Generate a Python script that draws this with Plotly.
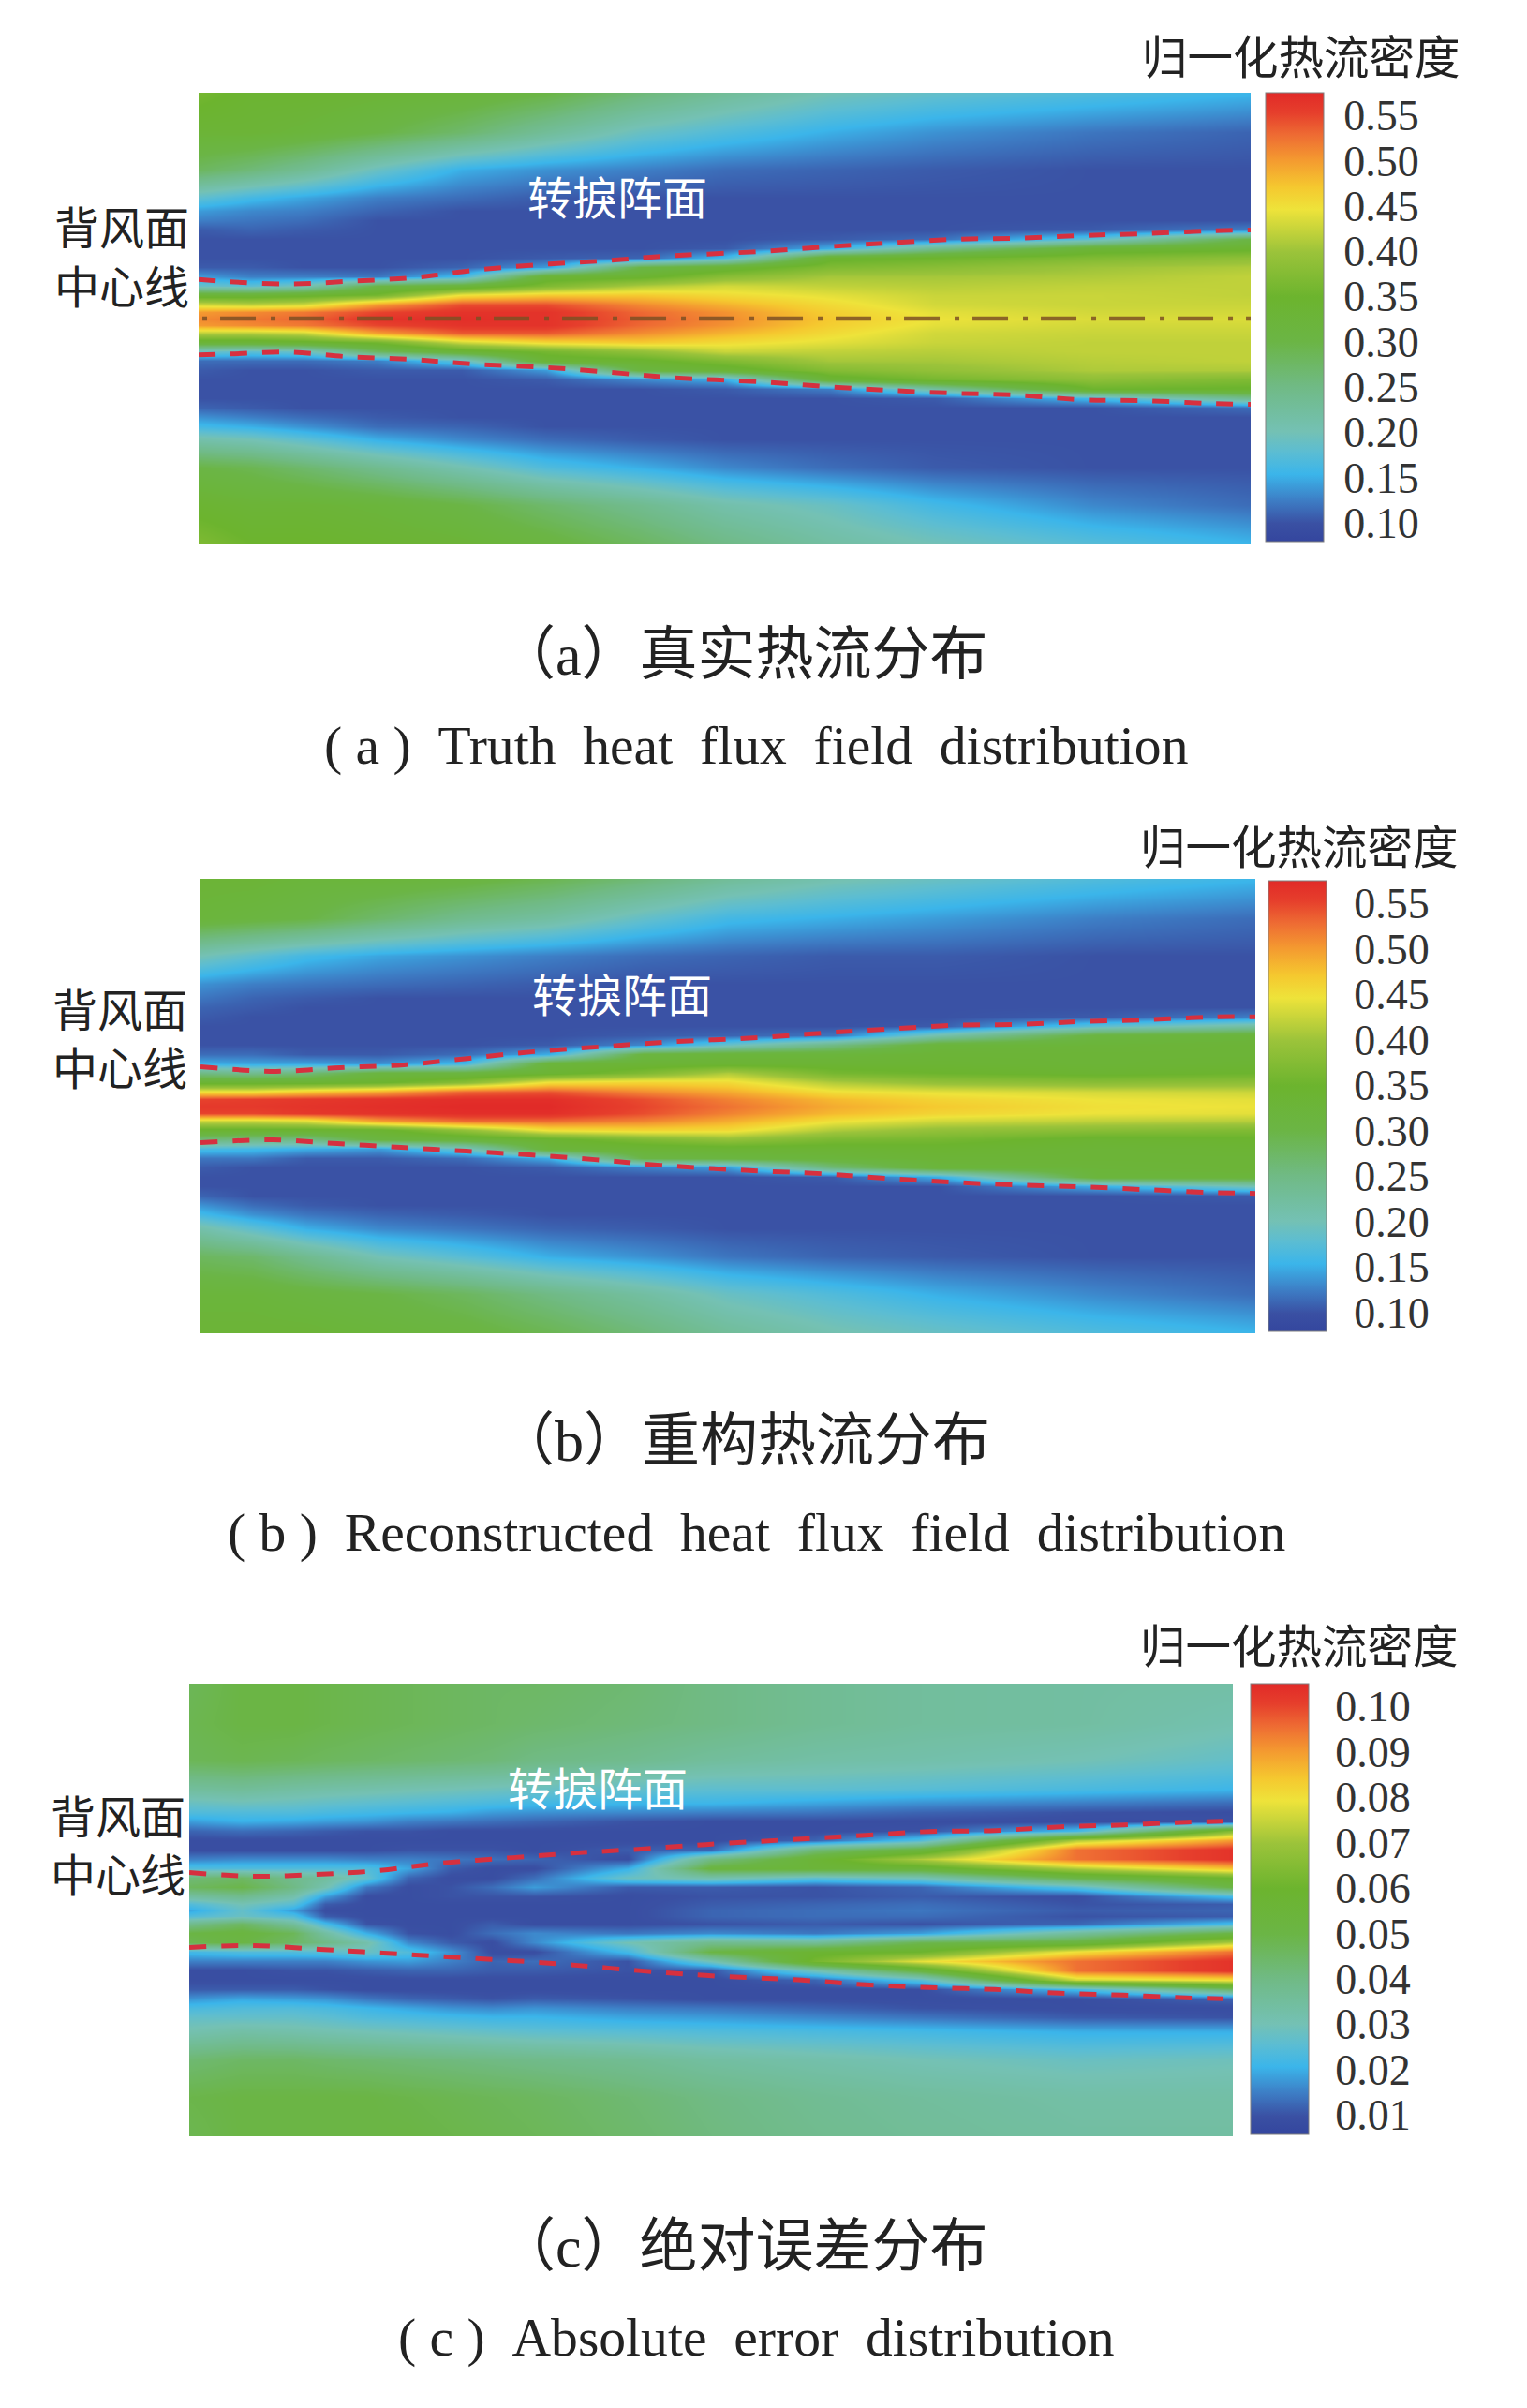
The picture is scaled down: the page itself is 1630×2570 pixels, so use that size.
import plotly.graph_objects as go

W, H = 1630, 2570
FONT = "Liberation Serif, Noto Sans CJK SC"
NB = "\u00a0"

# position along the span (fraction) and distance from the leeward centre line
x_stations = [0, .05, .1, .17, .25, .33, .42, .5, .6, .7, .85, 1]
error_x_stations = [0, .05, .1, .13, .17, .21, .25, .29, .33, .42, .5, .6, .7, .85, 1]
y_stations = [242, 200, 160, 130, 115, 105, 95, 85, 75, 65, 55, 45, 35, 25, 15, 7, 0,
              -7, -15, -25, -35, -45, -55, -65, -75, -85, -95, -105, -115, -130, -160, -200, -242]

# each inner list is one vertical profile at an x station, top to bottom
truth_profiles = [
 [.36,.33,.28,.18,.14,.125,.105,.10,.10,.10,.105,.14,.19,.33,.43,.50,.51, .50,.42,.33,.19,.115,.105,.10,.10,.10,.11,.135,.16,.21,.30,.34,.37],
 [.34,.33,.26,.16,.13,.12,.11,.10,.10,.10,.105,.125,.18,.33,.42,.51,.52, .51,.42,.33,.18,.115,.10,.10,.10,.10,.105,.125,.15,.20,.29,.33,.35],
 [.34,.32,.235,.145,.125,.115,.105,.10,.10,.10,.10,.125,.20,.34,.43,.52,.53, .52,.43,.34,.19,.115,.10,.10,.10,.10,.10,.115,.135,.18,.27,.33,.35],
 [.33,.30,.19,.125,.11,.10,.10,.10,.10,.10,.10,.12,.30,.36,.50,.55,.565, .55,.50,.36,.28,.125,.105,.10,.10,.10,.10,.105,.115,.15,.24,.32,.34],
 [.32,.27,.15,.115,.10,.10,.10,.10,.10,.10,.11,.16,.32,.45,.545,.565,.57, .565,.54,.43,.33,.18,.105,.10,.10,.10,.10,.10,.11,.13,.205,.30,.33],
 [.30,.23,.135,.105,.10,.10,.10,.10,.10,.105,.14,.33,.37,.47,.545,.565,.565, .565,.54,.46,.36,.33,.14,.105,.10,.10,.10,.10,.10,.115,.17,.27,.31],
 [.26,.19,.125,.10,.10,.10,.10,.10,.10,.11,.30,.34,.41,.47,.51,.53,.535, .53,.51,.47,.39,.34,.31,.13,.10,.10,.10,.10,.10,.105,.15,.24,.28],
 [.23,.17,.115,.10,.10,.10,.10,.10,.105,.16,.33,.38,.43,.455,.485,.505,.51, .505,.485,.455,.425,.37,.33,.15,.105,.10,.10,.10,.10,.10,.13,.21,.25],
 [.20,.15,.11,.10,.10,.10,.10,.105,.15,.34,.37,.405,.42,.44,.455,.465,.47, .465,.455,.44,.42,.405,.375,.33,.125,.10,.10,.10,.10,.10,.115,.19,.22],
 [.185,.135,.105,.10,.10,.10,.10,.115,.24,.35,.38,.405,.415,.425,.43,.44,.445, .44,.43,.425,.415,.405,.39,.36,.22,.105,.10,.10,.10,.10,.105,.16,.20],
 [.17,.12,.10,.10,.10,.10,.105,.18,.33,.37,.40,.41,.42,.425,.425,.43,.435, .43,.425,.42,.42,.415,.41,.385,.35,.16,.10,.10,.10,.10,.10,.13,.175],
 [.155,.11,.10,.10,.10,.10,.125,.30,.34,.385,.41,.42,.42,.42,.425,.43,.435, .43,.425,.42,.42,.42,.41,.37,.345,.24,.115,.10,.10,.10,.10,.115,.155],
]
recon_profiles = [
 [.33,.32,.20,.135,.12,.11,.105,.10,.10,.10,.115,.15,.25,.335,.45,.55,.56, .55,.43,.34,.26,.165,.12,.105,.10,.10,.11,.135,.16,.21,.28,.32,.33],
 [.33,.31,.18,.125,.11,.105,.10,.10,.10,.10,.115,.145,.24,.335,.45,.555,.56, .55,.43,.34,.25,.16,.12,.10,.10,.10,.10,.115,.135,.18,.27,.32,.33],
 [.32,.30,.16,.12,.105,.10,.10,.10,.10,.10,.105,.145,.26,.335,.47,.56,.565, .56,.44,.34,.25,.15,.105,.10,.10,.10,.10,.105,.12,.15,.24,.31,.33],
 [.32,.27,.145,.115,.10,.10,.10,.10,.10,.10,.105,.135,.31,.345,.49,.565,.57, .565,.50,.34,.31,.14,.105,.10,.10,.10,.10,.10,.11,.13,.20,.30,.32],
 [.31,.24,.135,.11,.10,.10,.10,.10,.10,.10,.115,.16,.31,.38,.53,.57,.575, .57,.53,.39,.32,.19,.115,.10,.10,.10,.10,.10,.105,.12,.175,.28,.31],
 [.29,.22,.125,.105,.10,.10,.10,.10,.10,.105,.15,.32,.335,.45,.54,.57,.575, .57,.53,.45,.34,.32,.15,.105,.10,.10,.10,.10,.10,.11,.15,.25,.29],
 [.26,.185,.115,.10,.10,.10,.10,.10,.105,.13,.31,.33,.37,.46,.51,.545,.55, .545,.515,.46,.37,.33,.30,.125,.10,.10,.10,.10,.10,.105,.135,.22,.26],
 [.23,.16,.11,.10,.10,.10,.10,.10,.11,.19,.32,.335,.41,.455,.49,.515,.525, .515,.49,.455,.39,.335,.31,.14,.10,.10,.10,.10,.10,.10,.12,.19,.23],
 [.205,.15,.105,.10,.10,.10,.10,.10,.12,.25,.32,.335,.36,.41,.45,.48,.49, .48,.45,.41,.365,.335,.32,.26,.105,.10,.10,.10,.10,.10,.11,.17,.205],
 [.19,.14,.105,.10,.10,.10,.10,.105,.21,.32,.33,.335,.35,.39,.44,.46,.47, .46,.43,.39,.36,.34,.33,.32,.15,.10,.10,.10,.10,.10,.105,.15,.19],
 [.17,.125,.10,.10,.10,.10,.105,.18,.31,.325,.33,.33,.34,.38,.43,.445,.45, .445,.42,.38,.34,.33,.33,.325,.32,.15,.10,.10,.10,.10,.10,.13,.17],
 [.155,.115,.10,.10,.10,.10,.125,.22,.32,.33,.33,.335,.35,.385,.425,.44,.445, .44,.415,.37,.345,.335,.33,.33,.32,.20,.105,.10,.10,.10,.10,.115,.155],
]
error_profiles = [
 [.047,.048,.047,.035,.028,.024,.018,.012,.009,.009,.015,.024,.042,.046,.034,.024,.019, .024,.038,.05,.048,.022,.015,.009,.009,.011,.017,.023,.027,.031,.043,.049,.048],
 [.05,.05,.048,.036,.029,.024,.02,.013,.009,.009,.016,.024,.045,.049,.038,.03,.027, .028,.045,.052,.05,.024,.015,.009,.009,.011,.019,.024,.027,.033,.045,.05,.05],
 [.05,.05,.047,.034,.028,.024,.019,.012,.009,.009,.016,.024,.038,.04,.032,.025,.018, .024,.035,.047,.045,.024,.015,.010,.009,.011,.018,.024,.027,.032,.045,.05,.05],
 [.049,.049,.046,.033,.027,.023,.018,.011,.009,.009,.016,.024,.035,.031,.018,.011,.009, .011,.022,.034,.04,.025,.015,.010,.009,.010,.017,.023,.026,.031,.044,.05,.05],
 [.048,.048,.045,.032,.026,.022,.017,.010,.009,.009,.015,.024,.027,.014,.009,.009,.009, .009,.010,.02,.032,.028,.017,.011,.009,.009,.014,.021,.024,.03,.043,.05,.05],
 [.047,.047,.044,.031,.025,.021,.015,.010,.009,.010,.015,.019,.012,.009,.009,.009,.009, .009,.009,.010,.016,.024,.018,.012,.009,.009,.012,.019,.023,.029,.042,.049,.05],
 [.046,.046,.043,.03,.024,.02,.014,.009,.009,.010,.014,.011,.009,.010,.010,.009,.009, .009,.009,.009,.011,.017,.015,.012,.009,.009,.011,.017,.022,.028,.041,.048,.049],
 [.045,.045,.042,.029,.023,.018,.013,.009,.009,.010,.013,.009,.009,.013,.010,.009,.009, .009,.011,.013,.009,.009,.012,.011,.009,.009,.010,.016,.021,.027,.040,.047,.048],
 [.045,.044,.04,.028,.022,.017,.012,.009,.009,.009,.012,.009,.013,.018,.010,.009,.009, .009,.009,.016,.016,.009,.013,.011,.009,.009,.011,.017,.021,.026,.039,.046,.047],
 [.043,.042,.038,.027,.021,.016,.010,.009,.009,.011,.009,.02,.028,.011,.009,.009,.009, .009,.009,.014,.03,.022,.010,.010,.009,.009,.010,.015,.019,.025,.037,.043,.044],
 [.04,.04,.035,.026,.021,.015,.009,.009,.009,.012,.04,.052,.032,.011,.010,.011,.012, .012,.010,.016,.038,.05,.03,.010,.009,.009,.009,.014,.018,.024,.034,.04,.041],
 [.037,.037,.033,.026,.019,.014,.009,.009,.012,.042,.056,.055,.026,.010,.010,.012,.013, .013,.011,.014,.036,.058,.062,.03,.012,.009,.009,.012,.016,.023,.032,.037,.038],
 [.035,.035,.032,.025,.017,.012,.009,.010,.024,.052,.072,.055,.03,.012,.011,.013,.014, .013,.010,.018,.048,.06,.078,.052,.025,.009,.009,.010,.014,.022,.03,.035,.036],
 [.034,.034,.03,.023,.015,.010,.009,.022,.072,.095,.095,.072,.05,.025,.009,.010,.011, .010,.012,.035,.052,.08,.095,.095,.075,.022,.009,.009,.011,.02,.028,.033,.034],
 [.033,.031,.027,.021,.013,.009,.010,.065,.09,.103,.103,.085,.06,.05,.022,.011,.012, .011,.022,.05,.072,.095,.103,.103,.08,.045,.012,.009,.010,.02,.029,.033,.034],
]

# dashed boundary curves of the roll-up front
truth_upper_x = [0, .022, .084, .144, .205, .264, .326, .387, .445, .536, .598, .657, .719, .778, .84, .899, .961, 1]
truth_upper_y = [42, 40, 37, 40, 44, 52, 58, 62, 67, 72, 77, 81, 85, 86, 89, 91, 94, 95]
truth_lower_x = [0, .03, .084, .143, .205, .264, .324, .385, .447, .536, .598, .657, .719, .778, .84, .9, .961, 1]
truth_lower_y = [-39, -38, -36, -41, -44, -49, -52, -57, -63, -68, -73, -77, -80, -82, -87, -88, -91, -92]
recon_upper_x = [0, .071, .132, .193, .255, .316, .377, .439, .53, .592, .652, .714, .775, .836, .899, .96, 1]
recon_upper_y = [42, 37, 41, 44, 51, 58, 63, 68, 73, 78, 82, 86, 87, 90, 92, 95, 95]
recon_lower_x = [0, .069, .13, .19, .252, .312, .374, .436, .528, .589, .65, .712, .772, .834, .896, .956, 1]
recon_lower_y = [-39, -36, -40, -44, -48, -52, -57, -63, -69, -72, -77, -81, -84, -86, -89, -92, -93]
error_upper_x = [0, .062, .12, .18, .24, .31, .37, .43, .495, .587, .648, .71, .773, .835, .896, .957, 1]
error_upper_y = [40, 36, 38, 42, 50, 56, 61, 65, 70, 76, 80, 84, 85, 89, 91, 94, 95]
error_lower_x = [0, .062, .125, .186, .247, .308, .37, .433, .495, .587, .648, .709, .772, .834, .895, .956, 1]
error_lower_y = [-40, -38, -42, -46, -50, -54, -59, -65, -70, -75, -80, -83, -85, -89, -91, -94, -95]
centre_x = [-.0445, 1]
centre_y = [0, 0]

flux_ticks = [.10, .15, .20, .25, .30, .35, .40, .45, .50, .55]
flux_labels = ["0.10", "0.15", "0.20", "0.25", "0.30", "0.35", "0.40", "0.45", "0.50", "0.55"]
error_ticks = [.01, .02, .03, .04, .05, .06, .07, .08, .09, .10]
error_labels = ["0.01", "0.02", "0.03", "0.04", "0.05", "0.06", "0.07", "0.08", "0.09", "0.10"]

color_stops = [0, .04, .09, .15, .20, .245, .345, .445, .545, .645, .74, .79, .85, .905, .955, 1]
color_values = ["#34469e", "#3a50a3", "#3d7cc4", "#3bb5ea", "#5cbdd2", "#74c1b4", "#70ba85", "#6bb545",
                "#6cb42e", "#9bc33a", "#eee33a", "#f5c82f", "#f49a30", "#ee6c33", "#e63f2c", "#e12a28"]
colorscale = [[s, c] for s, c in zip(color_stops, color_values)]


def eng(tag, words):
    return f"( {tag} ){NB}{NB}" + (NB + NB).join(words.split())


panels = [
    dict(x=x_stations, z=truth_profiles, up=(truth_upper_x, truth_upper_y), lo=(truth_lower_x, truth_lower_y),
         box=(212, 1335, 99, 581), bar=(1351, 1413, 99, 578), zr=(.079, .575),
         ticks=flux_ticks, labels=flux_labels, ticklen=12,
         title=(1389, 62), front=(659, 212), lee=(130, 244, 307),
         cap=("（a）真实热流分布", 793, 699), eng=(eng("a", "Truth heat flux field distribution"), 807, 796), centre=True),
    dict(x=x_stations, z=recon_profiles, up=(recon_upper_x, recon_upper_y), lo=(recon_lower_x, recon_lower_y),
         box=(214, 1340, 938, 1423), bar=(1354, 1416, 940, 1421), zr=(.079, .575),
         ticks=flux_ticks, labels=flux_labels, ticklen=20,
         title=(1387, 905), front=(664, 1063), lee=(128, 1079, 1141),
         cap=("（b）重构热流分布", 793, 1538), eng=(eng("b", "Reconstructed heat flux field distribution"), 807, 1636), centre=False),
    dict(x=error_x_stations, z=error_profiles, up=(error_upper_x, error_upper_y), lo=(error_lower_x, error_lower_y),
         box=(202, 1316, 1797, 2280), bar=(1335, 1397, 1797, 2278), zr=(.0057, .105),
         ticks=error_ticks, labels=error_labels, ticklen=19,
         title=(1387, 1758), front=(638, 1910), lee=(126, 1940, 2002),
         cap=("（c）绝对误差分布", 793, 2398), eng=(eng("c", "Absolute error distribution"), 807, 2495), centre=False),
]

fig = go.Figure()
annotations = []


def text(t, px, py, size, color="#222222"):
    annotations.append(dict(text=t, x=px / W, y=1 - py / H, xref="paper", yref="paper",
                            xanchor="center", yanchor="middle", showarrow=False,
                            font=dict(family=FONT, size=size, color=color)))


layout_axes = {}
for i, p in enumerate(panels, 1):
    xa, ya = ("x", "y") if i == 1 else (f"x{i}", f"y{i}")
    x0, x1, y0, y1 = p["box"]
    layout_axes["xaxis" if i == 1 else f"xaxis{i}"] = dict(
        domain=[x0 / W, x1 / W], range=[0, 1], visible=False, anchor=ya)
    layout_axes["yaxis" if i == 1 else f"yaxis{i}"] = dict(
        domain=[1 - y1 / H, 1 - y0 / H], range=[-242, 242], visible=False, anchor=xa)
    bx0, bx1, by0, by1 = p["bar"]
    z_rows = [list(r) for r in zip(*p["z"])]
    fig.add_trace(go.Heatmap(
        x=p["x"], y=y_stations, z=z_rows, xaxis=xa, yaxis=ya,
        zmin=p["zr"][0], zmax=p["zr"][1], zsmooth="best", colorscale=colorscale, hoverinfo="skip",
        colorbar=dict(
            x=bx0 / W, xanchor="left", xpad=0, y=1 - (by0 + by1) / 2 / H, yanchor="middle", ypad=0,
            len=by1 - by0, lenmode="pixels", thickness=bx1 - bx0, thicknessmode="pixels",
            outlinewidth=1, outlinecolor="#808080",
            tickmode="array", tickvals=p["ticks"], ticktext=p["labels"],
            ticks="outside", ticklen=p["ticklen"], tickcolor="rgba(0,0,0,0)",
            tickfont=dict(family=FONT, size=46, color="#333333"))))
    for cx, cy in (p["up"], p["lo"]):
        fig.add_trace(go.Scatter(x=cx, y=cy, xaxis=xa, yaxis=ya, mode="lines", showlegend=False,
                                 hoverinfo="skip",
                                 line=dict(color="#d6303f", width=5, dash="18px,16px", shape="spline")))
    if p["centre"]:
        fig.add_trace(go.Scatter(x=centre_x, y=centre_y, xaxis=xa, yaxis=ya, mode="lines", showlegend=False,
                                 hoverinfo="skip",
                                 line=dict(color="rgba(125,80,35,0.85)", width=4.5, dash="38px,16px,5px,14px")))
    text("归一化热流密度", p["title"][0], p["title"][1], 48.5)
    text("转捩阵面", p["front"][0], p["front"][1], 48, "#ffffff")
    text("背风面", p["lee"][0], p["lee"][1], 48)
    text("中心线", p["lee"][0], p["lee"][2], 48)
    text(p["cap"][0], p["cap"][1], p["cap"][2], 62)
    text(p["eng"][0], p["eng"][1], p["eng"][2], 57.6)

fig.update_layout(width=W, height=H, margin=dict(l=0, r=0, t=0, b=0), paper_bgcolor="white",
                  plot_bgcolor="white", showlegend=False, annotations=annotations, **layout_axes)
fig.write_html("out.html", config={"displayModeBar": False},
               post_script="document.body.style.margin='0';document.body.style.overflow='hidden';")
